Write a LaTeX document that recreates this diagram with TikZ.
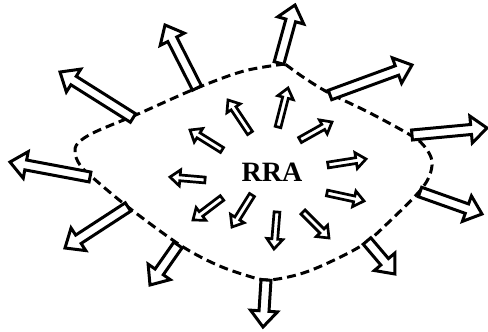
\documentclass[tikz,border=0pt]{standalone}
\usepackage{fontspec}
\setmainfont{Liberation Serif}
\newcommand\genarr[8]{%
  \pgfmathsetmacro\myang{atan2((#6)-(#8),(#7)-(#5))}%
  \pgfmathsetmacro\mylen{veclen((#7)-(#5),(#8)-(#6))}%
  \pgfmathsetmacro\mybase{\mylen-(#3)}%
  \begin{scope}[shift={(#5,#6)},rotate=\myang]
    \draw[#4] (0,#1) -- (\mybase,#1) -- (\mybase,#2) -- (\mylen,0) -- (\mybase,-#2) -- (\mybase,-#1) -- (0,-#1) -- cycle;
  \end{scope}}
\newcommand\outarr[4]{\genarr{5}{13.5}{16}{outer arrow}{#1}{#2}{#3}{#4}}
\newcommand\inarr[4]{\genarr{2.9}{8}{10}{inner arrow}{#1}{#2}{#3}{#4}}
\tikzset{
  outer arrow/.style={line width=3pt, fill=white, line join=miter},
  inner arrow/.style={line width=2.7pt, fill=white, line join=miter},
  boundary/.style={line width=3pt, dash pattern=on 9pt off 5pt}
}
\begin{document}
\begin{tikzpicture}[x=1pt,y=-1pt]
\useasboundingbox (0,0) rectangle (488,332);
% dashed boundary
\draw[boundary] plot[smooth, tension=0.55] coordinates {
 (285,64) (244,71) (197,88) (138,114) (95,132) (78,143) (75,153) (80,165)
 (92,177) (128,207) (180,245) (215,264) (245,275) (268,280) (300,274)
 (330,262) (364,244) (390,221) (418,193) (429,177) (432,161) (425,147)
 (412,136) (370,113) (329,93) (303,77) (285,64)};
% outer arrows
\outarr{279}{63}{295}{5}
\outarr{197}{88}{165}{25}
\outarr{133}{118}{60}{72}
\outarr{90}{177}{10}{162}
\outarr{128}{207}{65}{248}
\outarr{178}{245}{150}{285}
\outarr{266}{280}{263}{327}
\outarr{367}{241}{395}{274}
\outarr{420}{192}{482}{214}
\outarr{412}{135}{487}{128}
\outarr{330}{95}{412}{65}
% inner arrows
\inarr{250}{133}{228}{100}
\inarr{278}{127}{288}{88}
\inarr{300}{140}{332}{122}
\inarr{222}{150}{190}{130}
\inarr{205}{180}{170}{177}
\inarr{222}{198}{193}{220}
\inarr{252}{195}{232}{227}
\inarr{277}{212}{274}{249}
\inarr{303}{212}{329}{238}
\inarr{327}{193}{364}{201}
\inarr{328}{165}{366}{159}
\node[font=\bfseries\fontsize{28}{32}\selectfont, inner sep=0pt] (rra) at (272,172) {RRA};
\end{tikzpicture}
\end{document}
